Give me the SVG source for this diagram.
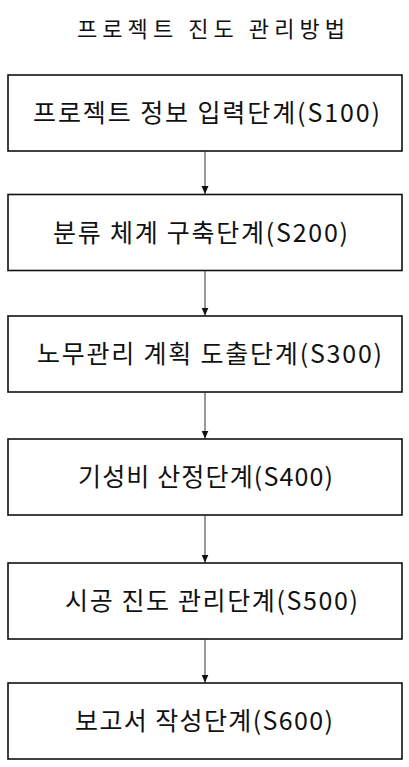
<svg xmlns="http://www.w3.org/2000/svg" width="409" height="767" viewBox="0 0 409 767">
<style>
.bg{fill:#fff}
.box{fill:#fff;stroke:#111;stroke-width:1.6}
.t{font-family:"Noto Sans CJK KR","Liberation Sans",sans-serif;font-size:25px;fill:#111}
.title{font-family:"Noto Sans CJK KR","Liberation Sans",sans-serif;font-size:22px;fill:#111}
.conn{stroke:#333;stroke-width:1;fill:none}
</style>
<defs>
<marker id="ah" viewBox="0 0 8 10" markerWidth="8" markerHeight="10" refX="8" refY="5" orient="auto" markerUnits="userSpaceOnUse">
<path d="M0,1.5 L8,5 L0,8.5 Z" fill="#111"/>
</marker>
</defs>
<rect class="bg" x="0" y="0" width="409" height="767"/>
<g id="title"><text class="title" x="77" y="37" textLength="268" lengthAdjust="spacing">프로젝트 진도 관리방법</text></g>
<g id="s100"><rect class="box" x="8" y="75" width="394" height="76"/><text class="t" x="33" y="122" textLength="347" lengthAdjust="spacing">프로젝트 정보 입력단계(S100)</text></g>
<g id="s200"><rect class="box" x="8" y="194.5" width="394" height="76"/><text class="t" x="53" y="242" textLength="295" lengthAdjust="spacing">분류 체계 구축단계(S200)</text></g>
<g id="s300"><rect class="box" x="8" y="316" width="394" height="76"/><text class="t" x="37" y="363" textLength="345" lengthAdjust="spacing">노무관리 계획 도출단계(S300)</text></g>
<g id="s400"><rect class="box" x="8" y="439" width="394" height="76"/><text class="t" x="78" y="486" textLength="255" lengthAdjust="spacing">기성비 산정단계(S400)</text></g>
<g id="s500"><rect class="box" x="8" y="563" width="394" height="76"/><text class="t" x="65" y="610" textLength="293" lengthAdjust="spacing">시공 진도 관리단계(S500)</text></g>
<g id="s600"><rect class="box" x="8" y="683" width="394" height="76"/><text class="t" x="75" y="730" textLength="258" lengthAdjust="spacing">보고서 작성단계(S600)</text></g>
<g id="connectors">
<line class="conn" x1="205" y1="151" x2="205" y2="194" marker-end="url(#ah)"/>
<line class="conn" x1="205" y1="270.5" x2="205" y2="315.5" marker-end="url(#ah)"/>
<line class="conn" x1="205" y1="392" x2="205" y2="438.5" marker-end="url(#ah)"/>
<line class="conn" x1="205" y1="515" x2="205" y2="562.5" marker-end="url(#ah)"/>
<line class="conn" x1="205" y1="639" x2="205" y2="682.5" marker-end="url(#ah)"/>
</g>
</svg>
